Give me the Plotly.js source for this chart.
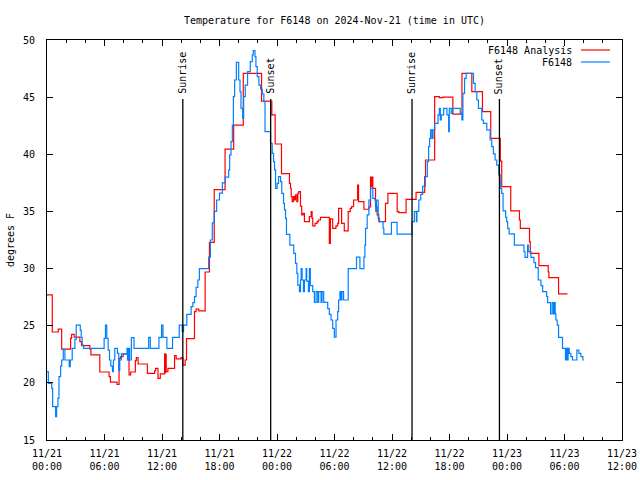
<!DOCTYPE html>
<html>
<head>
<meta charset="utf-8">
<script src="https://cdn.plot.ly/plotly-3.0.1.min.js"></script>
<style>html,body{margin:0;padding:0;background:#fff;}#chart{width:640px;height:480px;}</style>
</head>
<body>
<div id="chart"></div>
<script>
// Hours after 2024-11-21 00:00 UTC
const analysisHours = [0,0.55,1.18,1.53,2.46,2.57,2.84,3.43,3.6,4.47,4.58,5.51,6.48,6.62,7.31,7.52,7.69,7.94,8.46,8.56,8.73,9.22,9.32,9.5,10.47,11.23,11.33,11.58,11.82,12.27,12.33,12.38,12.44,12.62,13.31,13.48,14.0,14.18,14.42,14.56,15.39,15.56,15.84,16.5,16.95,17.45,18.58,19.48,20.48,22.39,23.46,23.81,24.47,25.3,25.41,25.48,25.58,25.72,25.82,25.93,26.07,26.17,26.27,26.45,26.58,26.72,26.86,27.38,27.56,27.66,27.73,27.97,28.18,28.32,28.53,29.46,29.57,29.81,30.15,30.33,30.43,30.74,31.02,31.43,31.64,31.78,31.99,32.41,32.51,33.07,33.59,33.76,33.83,33.9,34.0,34.28,34.45,34.62,35.32,35.57,36.54,36.71,37.47,38.51,39.41,39.5,40.45,40.94,41.3,42.35,43.3,44.33,45.44,46.3,47.3,47.45,48.39,49.3,49.39,50.35,50.43,51.33,52.3,52.37,53.38,54.31];
const analysisTemps = [27.7,24.45,24.7,22.96,23.89,24.25,24.0,23.6,23.26,22.96,22.44,20.95,20.54,20.07,19.87,22.15,22.3,22.53,22.0,20.69,20.95,21.94,22.2,21.65,20.83,21.06,21.27,20.4,20.78,22.53,20.9,22.5,20.98,21.27,22.38,22.09,22.2,21.56,22.0,23.87,26.23,26.46,26.29,29.7,32.3,36.9,40.46,42.56,47.08,44.66,43.44,40.9,38.3,37.46,37.02,36.29,35.85,36.29,36.0,36.44,35.85,36.58,36.73,35.47,34.69,34.83,34.1,34.54,34.98,34.39,33.73,33.96,34.1,34.25,34.48,32.21,34.34,33.52,33.73,33.96,35.27,33.96,33.29,34.98,35.27,35.42,36.0,37.31,35.85,35.19,35.4,38.0,37.2,38.0,37.02,35.4,34.69,34.1,35.7,36.58,34.98,34.9,36.06,36.67,38.04,39.5,45.04,44.95,45.0,43.52,47.08,45.48,43.73,41.4,39.4,37.17,35.04,34.25,33.52,32.35,31.33,30.25,29.7,29.2,27.78,27.78];

const obsHours = [0,0.14,0.49,0.59,0.9,1.0,1.14,1.25,1.42,1.53,1.7,1.87,2.32,2.43,2.63,2.91,3.05,3.47,3.57,3.67,3.81,5.96,6.1,6.24,6.38,6.52,6.66,6.83,6.93,7.07,7.35,7.49,7.59,7.76,8.35,8.4,8.46,8.51,8.56,8.62,8.8,9.08,10.61,10.78,11.68,11.96,12.1,12.51,13.1,13.8,14.11,14.25,14.59,15.04,15.22,15.39,15.56,15.74,15.9,16.87,17.05,17.25,17.45,17.7,18.0,18.3,18.6,18.96,19.06,19.2,19.34,19.45,19.58,19.76,20.0,20.14,20.24,20.42,20.52,20.69,20.93,21.21,21.42,21.52,21.7,21.8,21.94,22.11,22.29,22.46,22.63,22.75,23.32,23.5,23.64,23.74,23.85,24.02,24.16,24.37,24.5,24.68,24.78,24.89,24.99,25.34,25.75,25.93,26.07,26.17,26.34,26.45,26.52,26.62,26.76,26.86,27.04,27.1,27.28,27.38,27.48,27.73,27.9,28.08,28.25,28.35,28.6,28.7,28.87,29.29,29.46,29.64,29.81,29.98,30.16,30.33,30.43,30.57,30.67,30.78,30.95,31.43,32.3,32.65,33.07,33.17,33.24,33.41,33.59,33.76,34.0,34.21,34.3,34.38,34.56,34.7,35.07,35.15,35.94,36.53,38.09,38.33,38.54,38.6,38.8,39.0,39.2,39.48,39.69,39.82,39.93,40.03,40.17,40.28,40.45,40.8,40.94,41.04,41.14,41.39,41.73,41.91,41.98,42.18,42.32,43.12,43.29,43.4,43.57,43.74,44.5,44.68,44.85,45.02,45.37,45.54,45.89,46.24,46.41,46.58,46.76,46.93,47.14,47.28,47.35,47.45,47.59,47.86,47.97,48.07,48.22,48.77,49.77,49.88,50.15,50.22,50.5,50.81,50.98,51.26,51.54,51.72,52.13,52.24,52.55,52.72,52.86,52.93,53.03,53.1,53.24,53.38,53.79,54.1,54.21,54.31,54.38,54.49,54.66,54.83,55.29,55.5,55.71,55.92,56.0];
const obsTemps = [20.98,19.96,19.52,17.92,17.04,17.92,18.65,20.54,21.47,22.0,22.93,22.0,21.42,22.0,23.02,23.81,25.06,24.62,23.98,23.31,23.02,23.89,25.06,23.89,22.87,22.0,21.47,20.98,22.0,23.02,22.58,21.06,22.0,22.53,23.02,22.0,23.02,22.0,23.02,22.0,23.96,23.02,23.98,23.02,23.98,25.06,23.98,23.02,23.98,25.06,24.48,25.06,25.99,26.67,27.02,27.55,28.36,29.0,30.0,31.0,32.5,34.0,35.0,36.0,36.6,37.5,38.0,38.63,39.94,41.1,42.56,45.04,46.5,48.04,46.5,45.48,44.02,43.15,45.04,46.06,47.23,48.1,48.69,49.07,48.54,47.67,46.8,46.06,45.69,45.28,44.6,41.98,40.96,40.08,39.35,38.63,37.02,37.46,38.04,37.6,36.58,35.71,35.13,34.4,33.0,32.06,31.33,30.46,29.58,28.56,27.98,29.0,30.0,29.0,27.98,29.0,30.0,28.9,27.98,30.0,28.5,27.98,27.05,27.98,27.05,27.98,27.05,27.98,27.05,26.5,26.0,25.5,24.77,24.0,25.5,26.23,27.25,27.98,27.25,27.98,27.25,30.0,31.0,30.0,31.0,32.06,33.52,34.69,36.0,37.02,36.15,36.0,35.0,36.0,34.4,34.1,33.52,33.02,34.05,33.02,34.1,34.98,34.1,35.0,36.0,36.5,37.2,38.04,39.35,40.67,41.4,42.13,41.4,42.13,42.71,43.44,44.02,43.0,43.44,44.02,43.44,41.98,44.02,43.58,44.02,43.58,43.0,45.33,46.65,47.08,46.21,45.48,44.75,44.02,43.0,42.71,42.13,41.25,40.67,40.03,39.5,39.06,38.19,37.6,37.02,36.58,35.04,34.48,34.1,33.52,33.03,32.06,31.48,30.98,32.06,31.48,30.98,30.52,30.08,29.0,28.5,27.98,27.55,27.02,26.03,27.02,26.03,27.02,26.03,25.5,25.06,23.98,23.02,22.0,23.02,22.0,23.02,22.58,22.29,22.0,22.87,22.58,22.29,22.0,22.0];

const sunHours = [14.17, 23.34, 38.09, 47.21];
const sunLabels = ['Sunrise', 'Sunset', 'Sunrise', 'Sunset'];
const sunLineTop = 44.84;

const seriesNames = ['F6148 Analysis', 'F6148'];
const seriesColors = ['#ff0000', '#0080ff'];

const BASE = Date.UTC(2024, 10, 21, 0, 0, 0);
function hourToDate(h) {
  return new Date(BASE + Math.round(h * 3600) * 1000).toISOString().replace('T', ' ').slice(0, 19);
}

const FONT = 'DejaVu Sans Mono';

const traces = [
  {x: analysisHours.map(hourToDate), y: analysisTemps, name: seriesNames[0], type: 'scatter', mode: 'lines',
   line: {color: seriesColors[0], width: 1.2, shape: 'hv'}},
  {x: obsHours.map(hourToDate), y: obsTemps, name: seriesNames[1], type: 'scatter', mode: 'lines',
   line: {color: seriesColors[1], width: 1.2, shape: 'hv'}}
];

const shapes = sunHours.map(h => ({type: 'line', xref: 'x', yref: 'y', x0: hourToDate(h), x1: hourToDate(h),
  y0: 15, y1: sunLineTop, line: {color: '#000', width: 1.3}}));

const annotations = sunHours.map((h, i) => ({xref: 'x', yref: 'y', x: hourToDate(h), y: sunLineTop,
  text: sunLabels[i], textangle: -90, showarrow: false, yanchor: 'bottom', xanchor: 'center', yshift: 3,
  font: {family: FONT, size: 10, color: '#000'}}));

// custom gnuplot-style key (text, then line sample)
const keyY = [0.975, 0.945];
seriesNames.forEach((n, i) => {
  annotations.push({xref: 'paper', yref: 'paper', x: 0.9165, y: keyY[i], text: n, showarrow: false,
    xanchor: 'right', yanchor: 'middle', font: {family: FONT, size: 10, color: '#000'}});
  shapes.push({type: 'line', xref: 'paper', yref: 'paper', x0: 0.9287, x1: 0.9791, y0: keyY[i], y1: keyY[i],
    line: {color: seriesColors[i], width: 1.2}});
});

const layout = {
  width: 640, height: 480,
  margin: {l: 47, r: 18, t: 40, b: 40},
  paper_bgcolor: '#fff', plot_bgcolor: '#fff',
  showlegend: false,
  font: {family: FONT, size: 10, color: '#000'},
  title: {text: 'Temperature for F6148 on 2024-Nov-21 (time in UTC)', font: {family: FONT, size: 10, color: '#000'},
          xref: 'paper', x: 0.5, xanchor: 'center', yref: 'container', y: 0.958, yanchor: 'middle'},
  xaxis: {type: 'date', range: [hourToDate(0), hourToDate(60)], tick0: hourToDate(0), dtick: 6 * 3600000,
          tickformat: '%m/%d<br>%H:%M', ticks: 'inside', ticklen: 6, tickcolor: '#000', tickwidth: 1,
          showline: true, linecolor: '#000', linewidth: 1, mirror: 'ticks', showgrid: false, zeroline: false,
          ticklabelstandoff: 4,
          minor: {dtick: 2 * 3600000, ticks: 'inside', ticklen: 3, tickcolor: '#000', showgrid: false},
          tickfont: {family: FONT, size: 10, color: '#000'}},
  yaxis: {range: [15, 50], dtick: 5, ticks: 'inside', ticklen: 6, tickcolor: '#000', tickwidth: 1,
          showline: true, linecolor: '#000', linewidth: 1, mirror: 'ticks', showgrid: false, zeroline: false,
          ticklabelstandoff: 9,
          tickfont: {family: FONT, size: 10, color: '#000'},
          title: {text: 'degrees F', font: {family: FONT, size: 10, color: '#000'}, standoff: 6}},
  shapes: shapes,
  annotations: annotations
};

Plotly.newPlot('chart', traces, layout, {staticPlot: true, displayModeBar: false});
</script>
</body>
</html>
